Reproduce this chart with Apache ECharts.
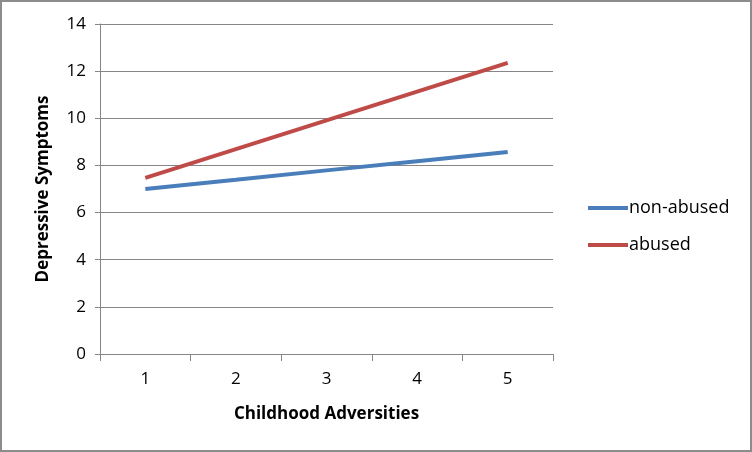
<!DOCTYPE html>
<html>
<head>
<meta charset="utf-8"/>
<script src="https://cdn.jsdelivr.net/npm/echarts@6/dist/echarts.min.js"></script>
<style>
  html, body { margin:0; padding:0; background:#fff; }
  #chart { width:748px; height:448px; border:2px solid #8c8c8c; }
</style>
</head>
<body>
<div id="chart"></div>
<script>
var categories = ['1', '2', '3', '4', '5'];
var nonAbused = [7.0, 7.39, 7.79, 8.18, 8.57];
var abused = [7.47, 8.69, 9.91, 11.13, 12.35];

var chart = echarts.init(document.getElementById('chart'));
var font = 'Open Sans';

chart.setOption({
  animation: false,
  grid: { left: 98, right: 197, top: 22, bottom: 96 },
  legend: {
    orient: 'vertical',
    left: 581,
    top: 192,
    itemWidth: 40,
    itemHeight: 4,
    itemGap: 19,
    icon: 'rect',
    textStyle: { fontFamily: font, fontSize: 18, color: '#000', padding: [0, 0, 0, -4] },
    data: ['non-abused', 'abused']
  },
  xAxis: {
    type: 'category',
    data: categories,
    boundaryGap: true,
    name: 'Childhood Adversities',
    nameLocation: 'middle',
    nameGap: 52,
    nameTextStyle: { fontFamily: font, fontSize: 17, fontWeight: 'bold', color: '#000' },
    axisLine: { lineStyle: { color: '#868686', width: 1 } },
    axisTick: { show: true, length: 7, alignWithLabel: false, lineStyle: { color: '#868686' } },
    axisLabel: { fontFamily: font, fontSize: 17, color: '#000', margin: 17 }
  },
  yAxis: {
    type: 'value',
    min: 0,
    max: 14,
    interval: 2,
    name: 'Depressive Symptoms',
    nameLocation: 'middle',
    nameGap: 48,
    nameTextStyle: { fontFamily: font, fontSize: 17, fontWeight: 'bold', color: '#000' },
    axisLine: { show: true, lineStyle: { color: '#868686', width: 1 } },
    axisTick: { show: true, length: 5, lineStyle: { color: '#868686' } },
    axisLabel: { fontFamily: font, fontSize: 17, color: '#000', margin: 14 },
    splitLine: { lineStyle: { color: '#868686', width: 1 } }
  },
  series: [
    {
      name: 'non-abused',
      type: 'line',
      data: nonAbused,
      symbol: 'none',
      itemStyle: { color: '#4a7ebb' },
      lineStyle: { color: '#4a7ebb', width: 4 }
    },
    {
      name: 'abused',
      type: 'line',
      data: abused,
      symbol: 'none',
      itemStyle: { color: '#be4b48' },
      lineStyle: { color: '#be4b48', width: 4 }
    }
  ]
});
</script>
</body>
</html>
